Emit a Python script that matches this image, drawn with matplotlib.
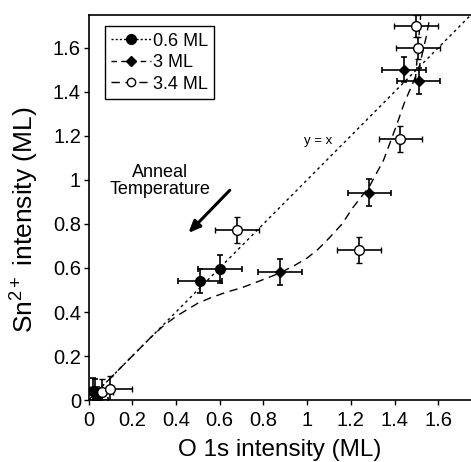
import matplotlib
matplotlib.use("Agg")
import matplotlib.pyplot as plt
from matplotlib.lines import Line2D

plt.rcParams['font.family'] = ['Liberation Sans', 'DejaVu Sans']
plt.rcParams['mathtext.fontset'] = 'custom'
plt.rcParams['mathtext.rm'] = 'Liberation Sans'
plt.rcParams['mathtext.it'] = 'Liberation Sans'

# 0.6 ML (filled circles)
x06 = [0.02, 0.04, 0.51, 0.60]
y06 = [0.04, 0.00, 0.54, 0.595]
xerr06 = [0.05, 0.05, 0.10, 0.10]
yerr06 = [0.06, 0.06, 0.055, 0.065]

# 3 ML (filled diamonds)
x3 = [0.03, 0.875, 1.285, 1.445, 1.51]
y3 = [0.035, 0.583, 0.942, 1.50, 1.45]
xerr3 = [0.04, 0.10, 0.10, 0.10, 0.10]
yerr3 = [0.06, 0.06, 0.06, 0.057, 0.06]

# 3.4 ML (open circles)
x34 = [0.06, 0.10, 0.68, 1.237, 1.427, 1.506, 1.499]
y34 = [0.035, 0.05, 0.773, 0.683, 1.187, 1.60, 1.70]
xerr34 = [0.05, 0.10, 0.10, 0.10, 0.10, 0.10, 0.10]
yerr34 = [0.06, 0.06, 0.06, 0.06, 0.06, 0.05, 0.05]

# hand-drawn guide curve for 3 ML
cx3 = [0.0, 0.1, 0.2, 0.28, 0.34, 0.40, 0.45, 0.50, 0.56, 0.63, 0.70, 0.78,
       0.87, 0.94, 1.0, 1.05, 1.10, 1.16, 1.21, 1.285, 1.35, 1.41, 1.445,
       1.51, 1.545, 1.56]
cy3 = [0.0, 0.1, 0.2, 0.28, 0.335, 0.38, 0.41, 0.44, 0.465, 0.49, 0.51, 0.54,
       0.575, 0.61, 0.645, 0.685, 0.735, 0.80, 0.875, 0.97, 1.09, 1.25, 1.35,
       1.50, 1.65, 1.73]
# guide segment for 3.4 ML at the top
cx34 = [1.495, 1.52]
cy34 = [1.45, 1.75]
# y = x line
diag = [0.0, 1.75]

fig = plt.figure(figsize=(4.71, 4.62), dpi=100)
ax = fig.add_axes([0.188, 0.134, 0.812, 0.834])

ax.plot(diag, diag, color='black', lw=1.0, linestyle=(0, (2, 2.5)))
ax.plot(cx3, cy3, color='black', lw=1.0, linestyle=(0, (6, 4)))
ax.plot(cx34, cy34, color='black', lw=1.0, linestyle=(0, (5, 6)))

ekw = dict(ecolor='black', elinewidth=1.2, capsize=2.5, capthick=1.2, linestyle='none')
ax.errorbar(x06, y06, xerr=xerr06, yerr=yerr06, marker='o', ms=7,
            mfc='black', mec='black', **ekw)
ax.errorbar(x3, y3, xerr=xerr3, yerr=yerr3, marker='D', ms=5,
            mfc='black', mec='black', **ekw)
ax.errorbar(x34, y34, xerr=xerr34, yerr=yerr34, marker='o', ms=7,
            mfc='white', mec='black', mew=1.0, **ekw)

ax.set_xlim(0, 1.75)
ax.set_ylim(0, 1.75)
ticks = [0, 0.2, 0.4, 0.6, 0.8, 1, 1.2, 1.4, 1.6]
tick_labels = ['0', '0.2', '0.4', '0.6', '0.8', '1', '1.2', '1.4', '1.6']
ax.set_xticks(ticks)
ax.set_xticklabels(tick_labels)
ax.set_yticks(ticks)
ax.set_yticklabels(tick_labels)
ax.tick_params(direction='out', length=3.5, width=1.0, labelsize=14.5)
ax.tick_params(axis='x', pad=4)
ax.tick_params(axis='y', pad=2)
for s in ['left', 'bottom', 'top']:
    ax.spines[s].set_linewidth(1.2)
ax.spines['right'].set_visible(False)

ax.set_xlabel('O 1s intensity (ML)', fontsize=17.5, labelpad=7)
ax.set_ylabel(r'Sn$^{\mathrm{2+}}$ intensity (ML)', fontsize=19)
ax.yaxis.set_label_coords(-0.125, 0.467)

ax.annotate('', xy=(0.448, 0.75), xytext=(0.655, 0.962),
            arrowprops=dict(arrowstyle='-|>,head_length=0.7,head_width=0.3',
                            color='black', lw=2.2))
ax.text(0.327, 0.995, 'Anneal\nTemperature', ha='center', va='center',
        fontsize=13, linespacing=1.05)
ax.text(1.05, 1.175, 'y = x', ha='center', va='center', fontsize=9.5)

handles = [
    Line2D([], [], color='black', lw=1.0, linestyle=(0, (1.5, 1.5)),
           marker='o', ms=7, mfc='black', mec='black'),
    Line2D([], [], color='black', lw=1.0, linestyle=(0, (4, 3)),
           marker='D', ms=5, mfc='black', mec='black'),
    Line2D([], [], color='black', lw=1.0, linestyle=(0, (6, 4)),
           marker='o', ms=6, mfc='white', mec='black'),
]
leg = ax.legend(handles, ['0.6 ML', '3 ML', '3.4 ML'], loc='upper left',
                bbox_to_anchor=(0.043, 0.97), fontsize=13, frameon=True,
                fancybox=False, edgecolor='black', framealpha=1,
                handlelength=2.2, handletextpad=0.1, borderpad=0.35,
                labelspacing=0.25, borderaxespad=0)
leg.get_frame().set_linewidth(1.0)

fig.savefig('out.png', dpi=100)
